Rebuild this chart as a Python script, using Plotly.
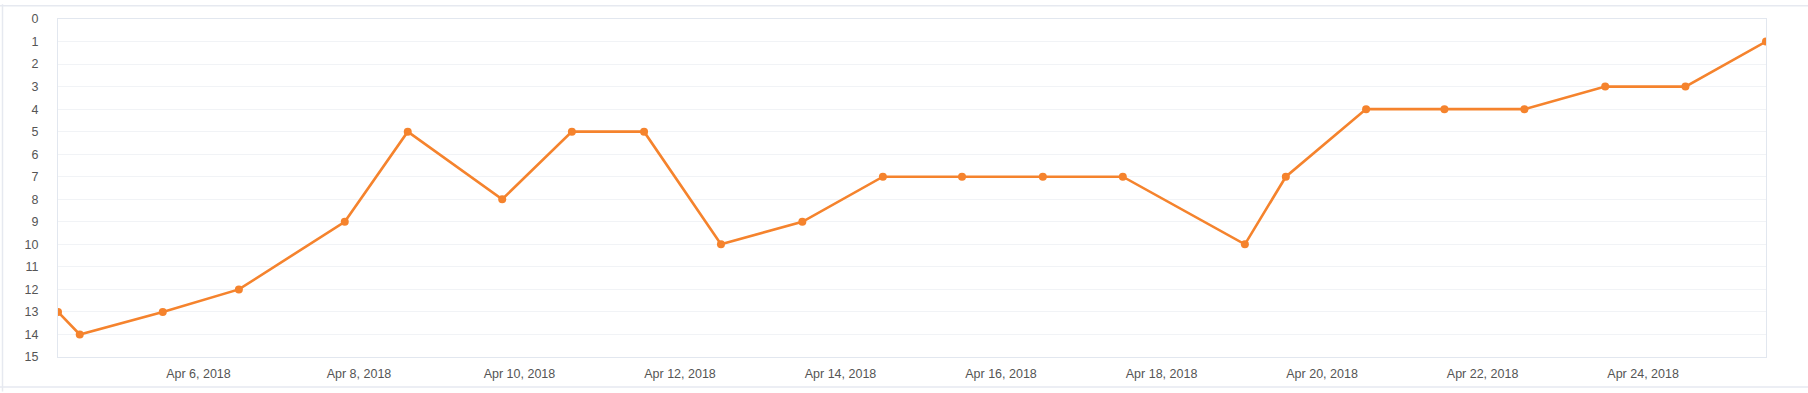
import plotly.graph_objects as go

dates = [
    "2018-04-04 06:00", "2018-04-04 12:30", "2018-04-05 13:20", "2018-04-06 12:05",
    "2018-04-07 19:45", "2018-04-08 14:35", "2018-04-09 18:50", "2018-04-10 15:40",
    "2018-04-11 13:15", "2018-04-12 12:15", "2018-04-13 12:35", "2018-04-14 12:40",
    "2018-04-15 12:20", "2018-04-16 12:30", "2018-04-17 12:25", "2018-04-19 00:55",
    "2018-04-19 13:10", "2018-04-20 13:10", "2018-04-21 12:35", "2018-04-22 12:30",
    "2018-04-23 12:40", "2018-04-24 12:40", "2018-04-25 12:45",
]
ranks = [13, 14, 13, 12, 9, 5, 8, 5, 5, 10, 9, 7, 7, 7, 7, 10, 7, 4, 4, 4, 3, 3, 1]
y_ticks = list(range(0, 16))

LINE = "#f5832d"
FONT = "Liberation Sans, Arial, sans-serif"

fig = go.Figure()
fig.add_trace(go.Scatter(
    x=dates, y=ranks, mode="lines+markers",
    line=dict(color=LINE, width=2.6),
    marker=dict(color=LINE, size=8),
    showlegend=False,
))

fig.update_layout(
    width=1808, height=393,
    margin=dict(l=58, r=42, t=15, b=35),
    paper_bgcolor="white", plot_bgcolor="white",
    font=dict(family=FONT, size=12, color="#555555"),
    xaxis=dict(
        type="date",
        range=[dates[0], dates[-1]],
        tick0="2018-04-06", dtick=2 * 86400000,
        tickformat="%b %-d, %Y",
        showgrid=False, zeroline=False,
        showline=True, linecolor="#e2e7ef", linewidth=1, mirror=True,
        ticks="outside", ticklen=5, tickcolor="rgba(0,0,0,0)",
        tickfont=dict(family=FONT, size=12.5, color="#555555"),
    ),
    yaxis=dict(
        range=[15, 0],
        tickvals=y_ticks,
        showgrid=True, gridcolor="#f1f3f6", gridwidth=1,
        zeroline=False,
        showline=True, linecolor="#e2e7ef", linewidth=1, mirror=True,
        ticks="outside", ticklen=16, tickcolor="rgba(0,0,0,0)",
        tickfont=dict(family=FONT, size=12.5, color="#555555"),
    ),
)

# outer page frame (decorative)
W, H = 1808, 393
pl, pr, pt, pb = 58, 42, 15, 35
pw, ph = W - pl - pr, H - pt - pb
def px(x):
    return (x - pl) / pw
def py(y):
    return 1 - (y - pt) / ph
frame = "#e6e9f0"
fig.add_shape(type="line", xref="paper", yref="paper", x0=px(0), x1=px(W), y0=py(1.5), y1=py(1.5),
              line=dict(color=frame, width=1.5))
fig.add_shape(type="line", xref="paper", yref="paper", x0=px(2.5), x1=px(2.5), y0=py(0), y1=py(H),
              line=dict(color=frame, width=1.5))
fig.add_shape(type="line", xref="paper", yref="paper", x0=px(0), x1=px(W), y0=py(388.5), y1=py(388.5),
              line=dict(color=frame, width=1.5))

fig.write_html("out.html")
